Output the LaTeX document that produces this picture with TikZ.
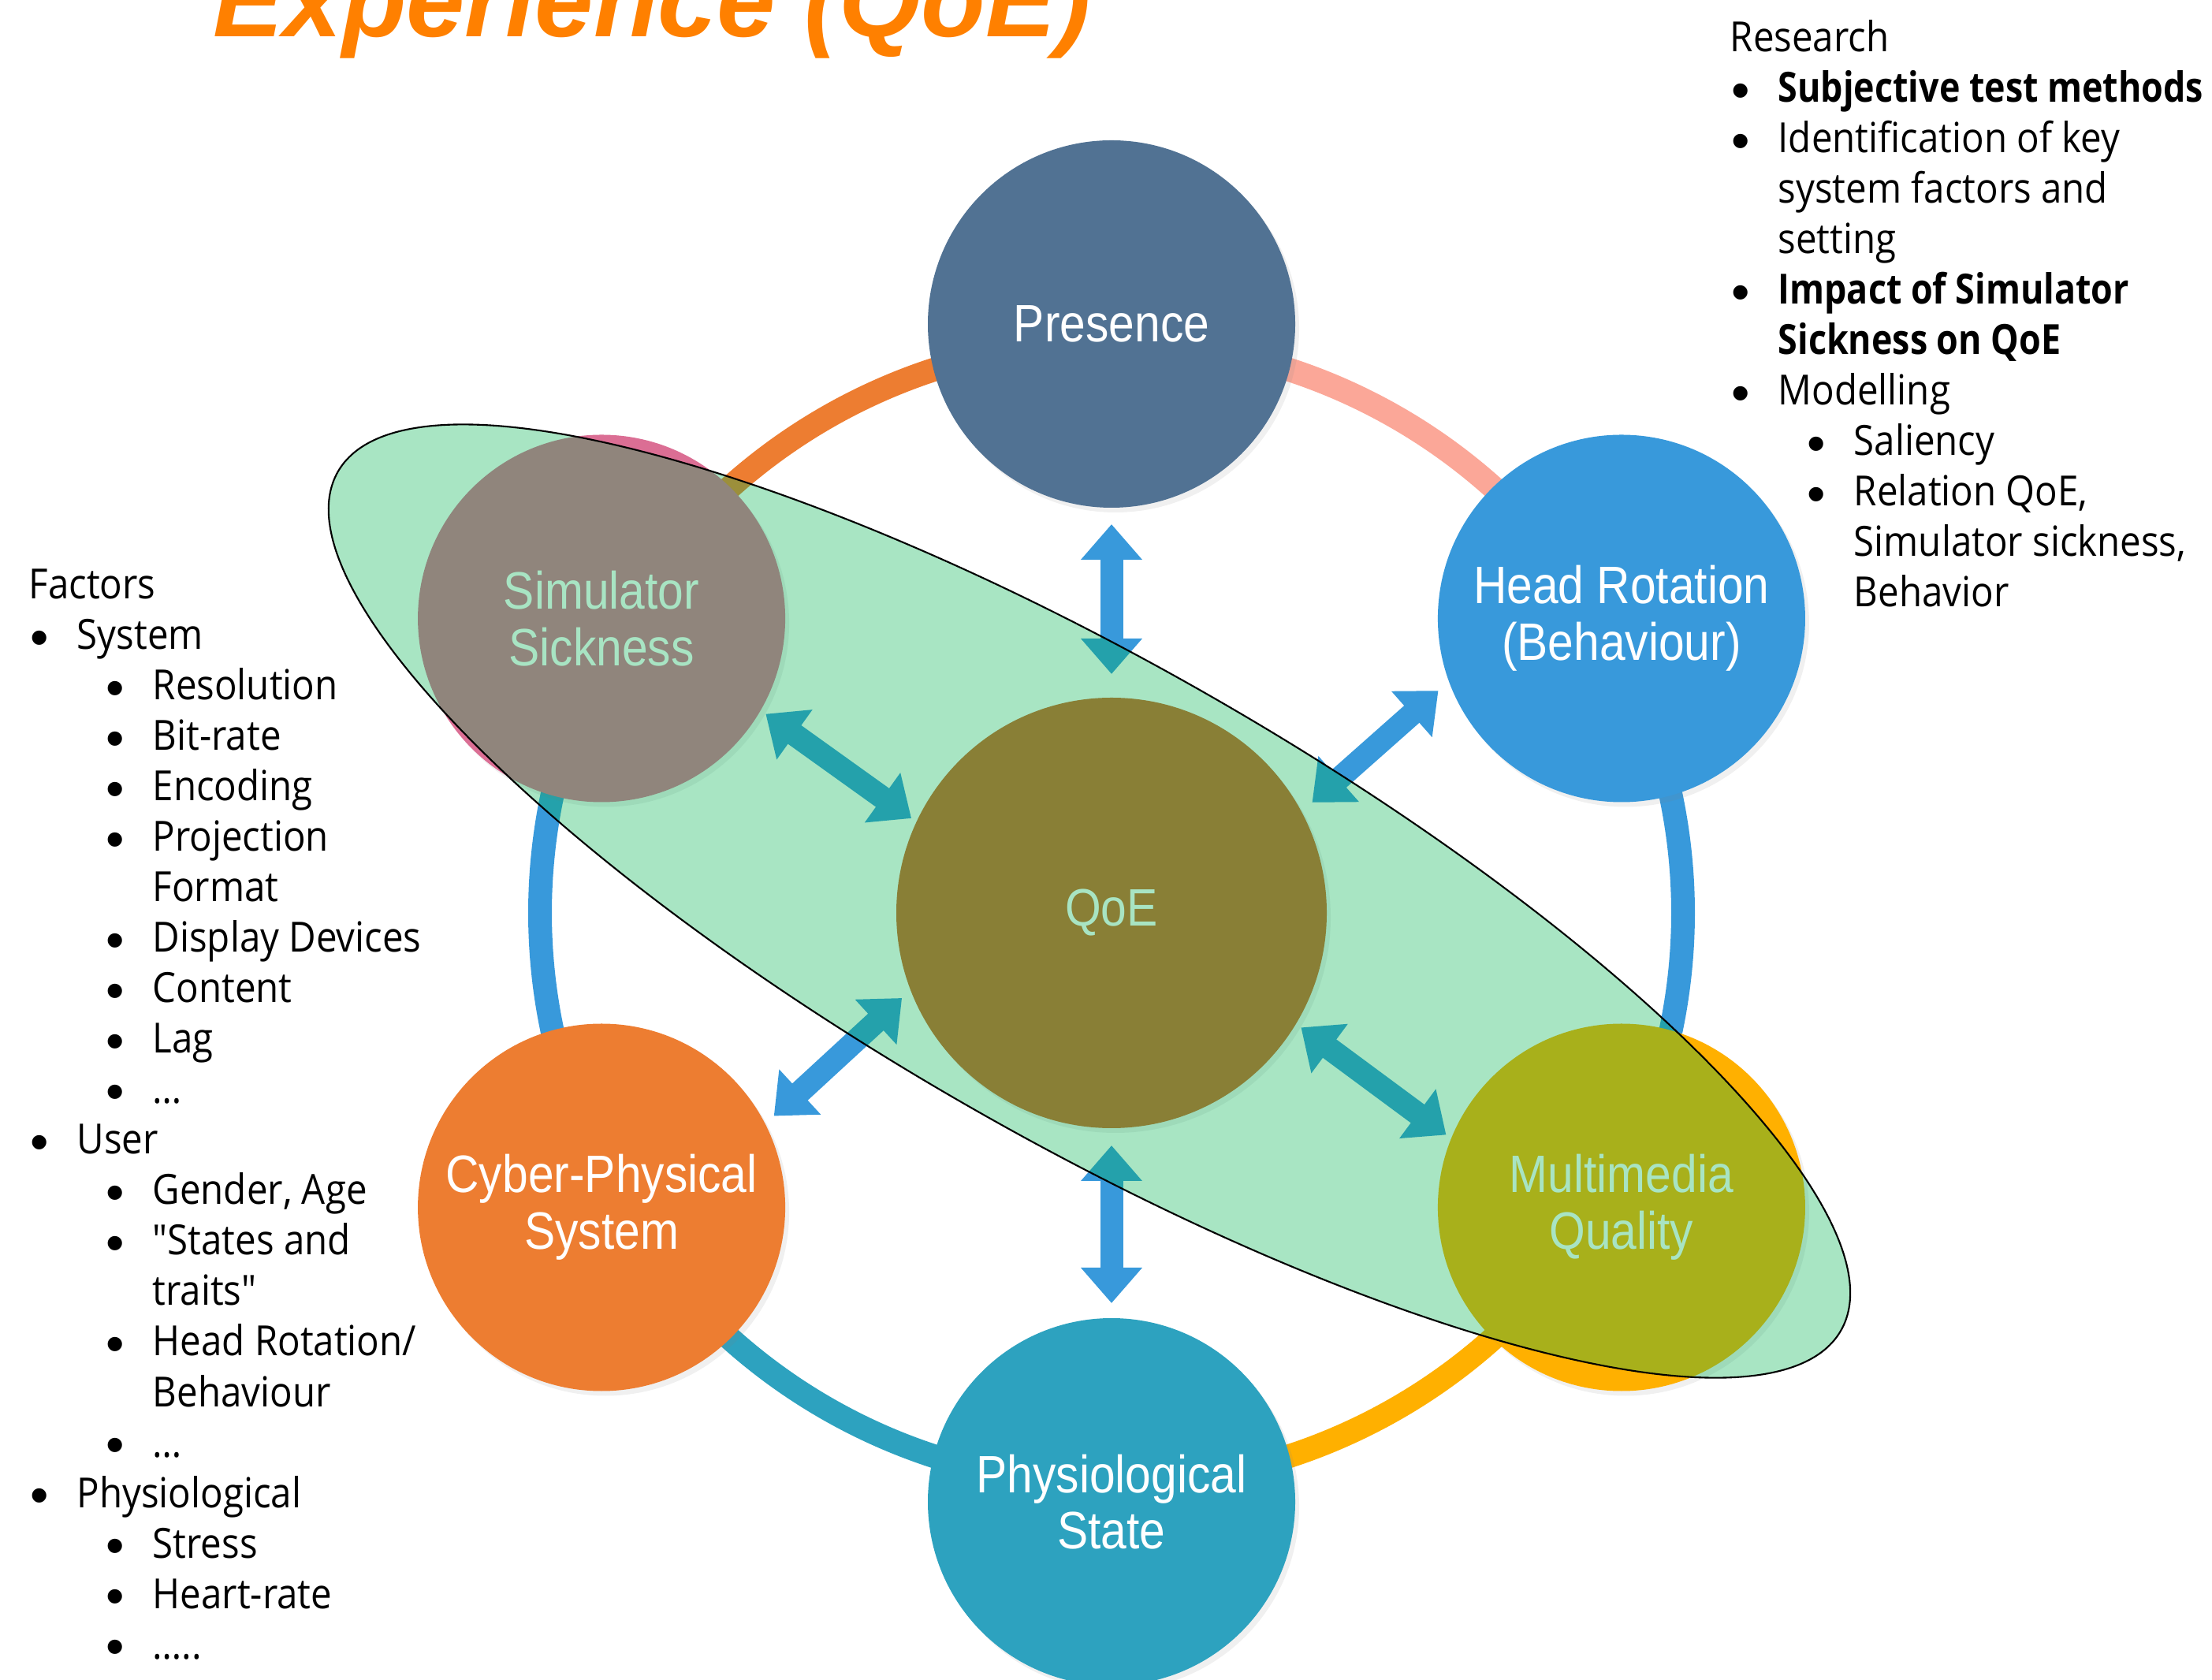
\documentclass[tikz,border=0pt]{standalone}
\usepackage{fontspec}
\setmainfont{Open Sans}
\newfontfamily\listfont[FakeStretch=0.9,BoldFeatures={FakeStretch=0.85}]{Open Sans}
\newfontfamily\circfont[FakeStretch=0.88]{Liberation Sans}
\newfontfamily\titlefont{Liberation Sans}
\usetikzlibrary{arrows.meta,positioning,calc,shadows}

\definecolor{presblue}{RGB}{81,114,147}
\definecolor{headblue}{RGB}{56,153,219}
\definecolor{mmgold}{RGB}{255,176,0}
\definecolor{physteal}{RGB}{45,162,191}
\definecolor{cyberorange}{RGB}{237,125,49}
\definecolor{simpink}{RGB}{219,110,148}
\definecolor{qoebrown}{RGB}{209,101,41}
\definecolor{salmon}{RGB}{251,167,152}
\definecolor{hlgreen}{RGB}{0,178,80}
\definecolor{titleorange}{RGB}{255,128,0}

\newcommand{\bul}{\raisebox{-2pt}{\titlefont\fontsize{19}{18}\selectfont\textbullet}}
\newcommand{\bA}{\hspace*{0.02cm}\makebox[0.59cm][l]{\bul}}
\newcommand{\bB}{\hspace*{0.98cm}\makebox[0.59cm][l]{\bul}}
\newcommand{\cA}{\hspace*{0.61cm}}
\newcommand{\cB}{\hspace*{1.57cm}}

\tikzset{
    >={Triangle[width=0.75cm,length=0.45cm]},
    ball/.style={circle,inner sep=0pt,outer sep=0pt,minimum size=4.66cm,
        text=white,align=center,font=\circfont\fontsize{19}{20.4}\selectfont,
        drop shadow={opacity=0.12,shadow xshift=0.05cm,shadow yshift=-0.06cm}},
    ringarc/.style={line width=0.3cm},
    dblarrow/.style={<->,draw=headblue,line width=0.29cm},
    listline/.style={anchor=base west,inner sep=0pt,font=\listfont\fontsize{15}{18}\selectfont},
    hilite/.style={draw=black,line width=0.6pt,fill=hlgreen,fill opacity=0.34}
}

\begin{document}
\begin{tikzpicture}
    \useasboundingbox (0,0) rectangle (28.06,21.30);
    \clip (0,0) rectangle (28.06,21.30);

    % title, cut at the top edge
    \node[anchor=base west,inner sep=0pt,text=titleorange,
        font=\titlefont\bfseries\itshape\fontsize{38}{42}\selectfont] (title) at (2.70,20.83) {Experience (QoE)};

    % ring round the hub
    \coordinate (hub) at (14.10,9.72);
    \foreach \a/\col in {90/cyberorange, 30/salmon, -30/headblue, -90/mmgold, -150/physteal, 150/headblue}
        \draw[ringarc,\col] ($(hub)+(\a:7.25)$) arc[start angle=\a,end angle=\a+60,radius=7.25];

    % circles
    \node[ball,fill=qoebrown,minimum size=5.46cm] (qoe) at (hub) {QoE};
    \node[ball,fill=presblue] (pres) at ($(hub)+(90:7.47)$) {Presence};
    \node[ball,fill=headblue] (head) at ($(hub)+(30:7.47)$) {Head Rotation\\(Behaviour)};
    \node[ball,fill=mmgold] (mmq) at ($(hub)+(-30:7.47)$) {Multimedia\\Quality};
    \node[ball,fill=physteal] (phys) at ($(hub)+(-90:7.47)$) {Physiological\\State};
    \node[ball,fill=cyberorange] (cps) at ($(hub)+(-150:7.47)$) {Cyber-Physical\\System};
    \node[ball,fill=simpink] (sim) at ($(hub)+(150:7.47)$) {Simulator\\Sickness};

    % double arrows
    \draw[dblarrow,shorten <=0.30cm,shorten >=0.21cm] (qoe.90) -- (pres.-90);
    \draw[dblarrow,shorten <=0.22cm,shorten >=0.19cm] (qoe.-90) -- (phys.90);
    \draw[dblarrow,shorten <=0.18cm,shorten >=0.18cm] (qoe.28) -- (head.200);
    \draw[dblarrow,shorten <=0.08cm,shorten >=0.08cm] (qoe.-31) -- (mmq.158);
    \draw[dblarrow,shorten <=0.15cm,shorten >=0.15cm] (qoe.201) -- (cps.27);
    \draw[dblarrow,shorten <=0.08cm,shorten >=0.08cm] (qoe.155) -- (sim.-30);

    % highlight
    \coordinate (hl) at (13.82,9.87);
    \draw[hilite,rotate around={-29.74:(hl)}] (hl) ellipse [x radius=10.98,y radius=3.02];

    % factors
    \foreach \txt [count=\i from 0] in {Factors, \bA System, \bB Resolution, \bB Bit-rate,
        \bB Encoding, \bB Projection, \cB Format, \bB Display Devices, \bB Content, \bB Lag,
        \bB …, \bA User, {\bB Gender, Age}, \bB "States and, \cB traits", \bB Head Rotation/,
        \cB Behaviour, \bB …, \bA Physiological, \bB Stress, \bB Heart-rate, \bB …..}
        \node[listline] (fac\i) at (0.36,13.70-0.64*\i) {\txt};

    % research
    \foreach \txt [count=\i from 0] in {Research, \bA\textbf{Subjective test methods},
        \bA Identification of key, \cA system factors and, \cA setting,
        \bA\textbf{Impact of Simulator}, \cA\textbf{Sickness on QoE}, \bA Modelling,
        \bB Saliency, {\bB Relation QoE,}, {\cB Simulator sickness,}, \cB Behavior}
        \node[listline] (res\i) at (21.94,20.64-0.64*\i) {\txt};
\end{tikzpicture}
\end{document}
